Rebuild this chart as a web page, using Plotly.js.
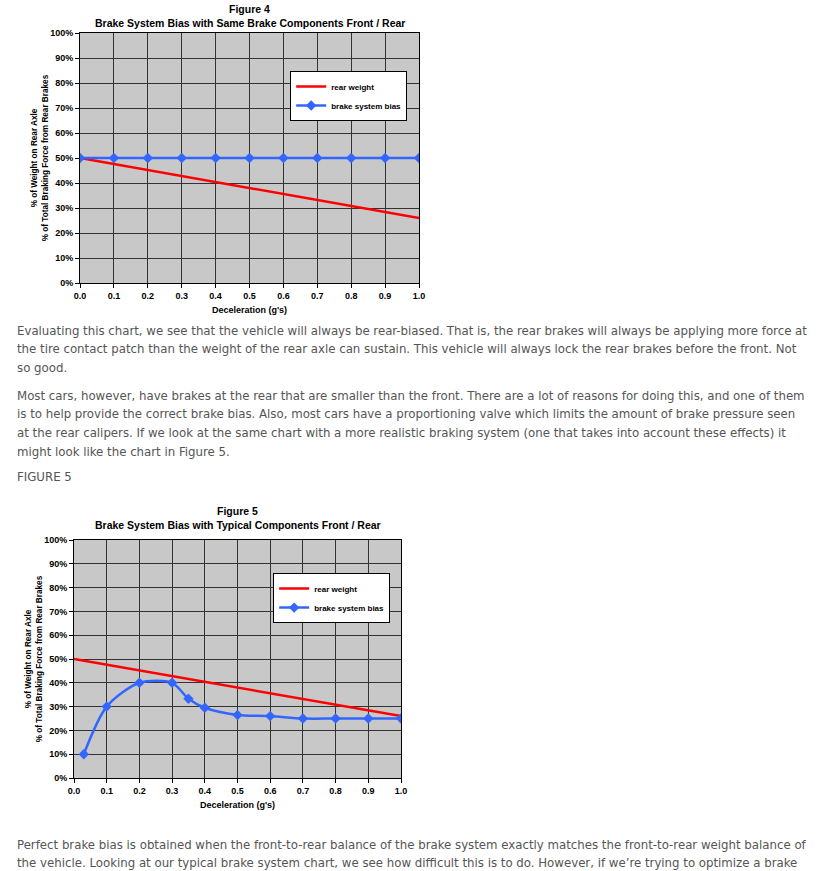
<!DOCTYPE html>
<html>
<head>
<meta charset="utf-8">
<script src="https://cdn.plot.ly/plotly-3.0.1.min.js"></script>
<style>
  html, body { margin:0; padding:0; background:#ffffff; width:820px; height:871px; overflow:hidden; }
  .chart { position:absolute; }
  .para { position:absolute; left:17px; font-family:"DejaVu Sans Condensed","DejaVu Sans",sans-serif; color:#555555; line-height:18.7px; font-size:12px; }
  .para div { white-space:nowrap; }
</style>
</head>
<body>
<div id="fig4" class="chart" style="left:0px; top:0px; width:440px; height:320px;"></div>
<div id="p1" class="para" style="top:321.5px;">
  <div id="refline">Evaluating this chart, we see that the vehicle will always be rear-biased. That is, the rear brakes will always be applying more force at</div>
  <div>the tire contact patch than the weight of the rear axle can sustain. This vehicle will always lock the rear brakes before the front. Not</div>
  <div>so good.</div>
</div>
<div id="p2" class="para" style="top:386.5px;">
  <div>Most cars, however, have brakes at the rear that are smaller than the front. There are a lot of reasons for doing this, and one of them</div>
  <div>is to help provide the correct brake bias. Also, most cars have a proportioning valve which limits the amount of brake pressure seen</div>
  <div>at the rear calipers. If we look at the same chart with a more realistic braking system (one that takes into account these effects) it</div>
  <div>might look like the chart in Figure 5.</div>
</div>
<div id="p3" class="para" style="top:467.6px;"><div>FIGURE 5</div></div>
<div id="fig5" class="chart" style="left:0px; top:500px; width:420px; height:320px;"></div>
<div id="p4" class="para" style="top:835.6px;">
  <div>Perfect brake bias is obtained when the front-to-rear balance of the brake system exactly matches the front-to-rear weight balance of</div>
  <div>the vehicle. Looking at our typical brake system chart, we see how difficult this is to do. However, if we’re trying to optimize a brake</div>
</div>
<script>
// ---- Data ----
const decel = [0.0, 0.1, 0.2, 0.3, 0.4, 0.5, 0.6, 0.7, 0.8, 0.9, 1.0];
const rearWeight = [50, 47.6, 45.2, 42.8, 40.4, 38, 35.6, 33.2, 30.8, 28.4, 26];
const biasSame = [50, 50, 50, 50, 50, 50, 50, 50, 50, 50, 50];
const decelTypical = [0.03, 0.1, 0.2, 0.3, 0.35, 0.4, 0.5, 0.6, 0.7, 0.8, 0.9, 1.0];
const biasTypical = [10, 30, 40, 40, 33.3, 29.5, 26.5, 26, 25, 25, 25, 25];
const seriesNames = ["rear weight", "brake system bias"];
const yTitle = "% of Weight on Rear Axle<br>% of Total Braking Force from Rear Brakes";
const xTitle = "Deceleration (g's)";

// ---- fit paragraph font ----
(function(){
  const ref = document.getElementById('refline');
  const w = ref.getBoundingClientRect().width;
  const size = 12 * 791 / w;
  document.querySelectorAll('.para').forEach(p => p.style.fontSize = size + 'px');
})();

const FONT = "Arial, 'Liberation Sans', sans-serif";
const RED = '#ff0000', BLUE = '#3366ff';
function f(size) { return {family: FONT, size: size, color: '#000000', weight: 'bold'}; }

function makeLayout(fig, sub, legendX, legendY, m) {
  return {
    width: m.w, height: m.h,
    margin: {l: m.l, r: m.r, t: m.t, b: m.b, pad: 0},
    paper_bgcolor: '#ffffff',
    plot_bgcolor: '#c8c8c8',
    font: f(9),
    annotations: [
      {text: fig, xref: 'paper', yref: 'paper', x: 0.5, y: m.y1, xanchor: 'center', yanchor: 'middle', showarrow: false, font: f(10.5)},
      {text: sub, xref: 'paper', yref: 'paper', x: 0.5, y: m.y2, xanchor: 'center', yanchor: 'middle', showarrow: false, font: f(10.5)}
    ],
    showlegend: true,
    legend: {x: legendX, y: legendY, xanchor: 'left', yanchor: 'top', bgcolor: '#ffffff', bordercolor: '#000000', borderwidth: 1,
             font: f(8), itemwidth: 30, tracegroupgap: 0},
    xaxis: {range: [0, 1], dtick: 0.1, tick0: 0, tickformat: '.1f', showgrid: true, gridcolor: '#333333', gridwidth: 1,
            showline: true, mirror: true, linecolor: '#000000', linewidth: 1, ticks: 'outside', ticklen: 4, tickcolor: '#000',
            zeroline: false, fixedrange: true, tickfont: f(9),
            title: {text: xTitle, standoff: 6, font: f(9)}},
    yaxis: {range: [0, 100], dtick: 10, tick0: 0, ticksuffix: '%', showgrid: true, gridcolor: '#333333', gridwidth: 1,
            showline: true, mirror: true, linecolor: '#000000', linewidth: 1, ticks: 'outside', ticklen: 4, tickcolor: '#000',
            zeroline: false, fixedrange: true, tickfont: f(9),
            title: {text: yTitle, standoff: 0, font: f(8.2)}}
  };
}

const cfg = {staticPlot: true, displayModeBar: false};

Plotly.newPlot('fig4', [
  {x: decel, y: rearWeight, name: seriesNames[0], mode: 'lines', line: {color: RED, width: 2.5}, hoverinfo: 'skip'},
  {x: decel, y: biasSame, name: seriesNames[1], mode: 'lines+markers', line: {color: BLUE, width: 2.5},
   marker: {symbol: 'diamond', size: 8, color: BLUE}, hoverinfo: 'skip'}
], makeLayout('Figure 4', 'Brake System Bias with Same Brake Components Front / Rear', 0.62, 0.848,
  {w: 440, h: 320, l: 80, r: 21, t: 33, b: 37, y1: 1.096, y2: 1.04}), cfg);

Plotly.newPlot('fig5', [
  {x: decel, y: rearWeight, name: seriesNames[0], mode: 'lines', line: {color: RED, width: 2.5}, hoverinfo: 'skip'},
  {x: decelTypical, y: biasTypical, name: seriesNames[1], mode: 'lines+markers', line: {color: BLUE, width: 2.5, shape: 'spline', smoothing: 0.8},
   marker: {symbol: 'diamond', size: 8, color: BLUE}, hoverinfo: 'skip'}
], makeLayout('Figure 5', 'Brake System Bias with Typical Components Front / Rear', 0.609, 0.861,
  {w: 420, h: 320, l: 74, r: 19, t: 40, b: 42, y1: 1.122, y2: 1.063}), cfg);
</script>
</body>
</html>
